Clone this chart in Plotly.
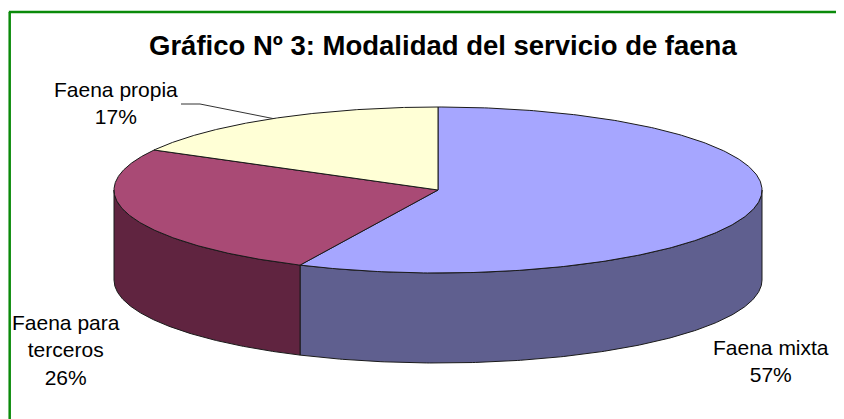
import numpy as np
import plotly.graph_objects as go

# ---- data ----
categories = ["Faena mixta", "Faena para terceros", "Faena propia"]
label_text = ["Faena mixta", "Faena para<br>terceros", "Faena propia"]
values = [57, 26, 17]
top_colors = ["#A6A6FF", "#A94A75", "#FFFFD6"]
side_colors = ["#5F5F8F", "#602440", "#B3B396"]
title = "Gráfico Nº 3: Modalidad del servicio de faena"

# ---- page geometry (body has an 8px default margin) ----
OFF = 8
W, H = 844, 419 - OFF

# ---- geometry of the tilted pie (screen pixel space) ----
cx, cy = 438, 190
a, b = 324, 83
depth = 90
edge = "#1a1a1a"

vals = np.array(values, dtype=float)
frac = vals / vals.sum()
ends = np.cumsum(frac) * 360.0
starts = ends - frac * 360.0


def rim(theta_deg, dy=0.0):
    t = np.radians(theta_deg)
    return cx + a * np.sin(t), cy - b * np.cos(t) + dy


fig = go.Figure()

# side walls (visible front half: 90..270 deg clockwise from top)
for i in range(len(vals)):
    t0 = max(starts[i], 90.0)
    t1 = min(ends[i], 270.0)
    if t1 <= t0:
        continue
    th = np.linspace(t0, t1, 200)
    xs_top, ys_top = rim(th)
    xs_bot, ys_bot = rim(th[::-1], depth)
    xs = np.concatenate([xs_top, xs_bot, xs_top[:1]])
    ys = np.concatenate([ys_top, ys_bot, ys_top[:1]])
    fig.add_trace(go.Scatter(x=xs, y=ys, mode="lines", fill="toself",
                             fillcolor=side_colors[i],
                             line=dict(color=edge, width=1),
                             hoverinfo="skip", showlegend=False))

# top faces
for i in range(len(vals)):
    th = np.linspace(starts[i], ends[i], 300)
    xs_arc, ys_arc = rim(th)
    xs = np.concatenate([[cx], xs_arc, [cx]])
    ys = np.concatenate([[cy], ys_arc, [cy]])
    fig.add_trace(go.Scatter(x=xs, y=ys, mode="lines", fill="toself",
                             fillcolor=top_colors[i],
                             line=dict(color=edge, width=1),
                             hoverinfo="skip", showlegend=False,
                             name=categories[i]))

# leader line for "Faena propia"
mid = (starts[2] + ends[2]) / 2
lx, ly = rim(mid)
fig.add_trace(go.Scatter(x=[181, 200, lx], y=[104, 104, ly], mode="lines",
                         line=dict(color="#333333", width=1),
                         hoverinfo="skip", showlegend=False))

# labels
pcts = [f"{int(round(f * 100))}%" for f in frac]
label_pos = [(771, 361), (66, 350), (116, 103)]
for i, (x, y) in enumerate(label_pos):
    fig.add_annotation(x=x, y=y, xref="x", yref="y",
                       text=f"{label_text[i]}<br>{pcts[i]}",
                       showarrow=False, align="center",
                       font=dict(family="Liberation Sans, Arial", size=21, color="#000000"))

fig.add_annotation(x=443, y=45, xref="x", yref="y", text=f"<b>{title}</b>",
                   showarrow=False,
                   font=dict(family="Liberation Sans, Arial", size=27.5, color="#000000"))

# green frame (left edge at screen x=8, top at screen y=12)
fig.add_shape(type="line", xref="paper", yref="paper",
              x0=0.001, x1=1.05, y0=1 - 4 / H, y1=1 - 4 / H,
              line=dict(color="#0A8A0A", width=2.5))
fig.add_shape(type="line", xref="paper", yref="paper",
              x0=0.002, x1=0.002, y0=1 - 4 / H, y1=-0.05,
              line=dict(color="#0A8A0A", width=2.5))

fig.update_layout(
    width=W, height=H, autosize=False,
    margin=dict(l=0, r=0, t=0, b=0),
    paper_bgcolor="white", plot_bgcolor="white",
    xaxis=dict(range=[OFF, OFF + W], visible=False, fixedrange=True),
    yaxis=dict(range=[OFF + H, OFF], visible=False, fixedrange=True),
    showlegend=False,
)

fig.write_html("out.html")
